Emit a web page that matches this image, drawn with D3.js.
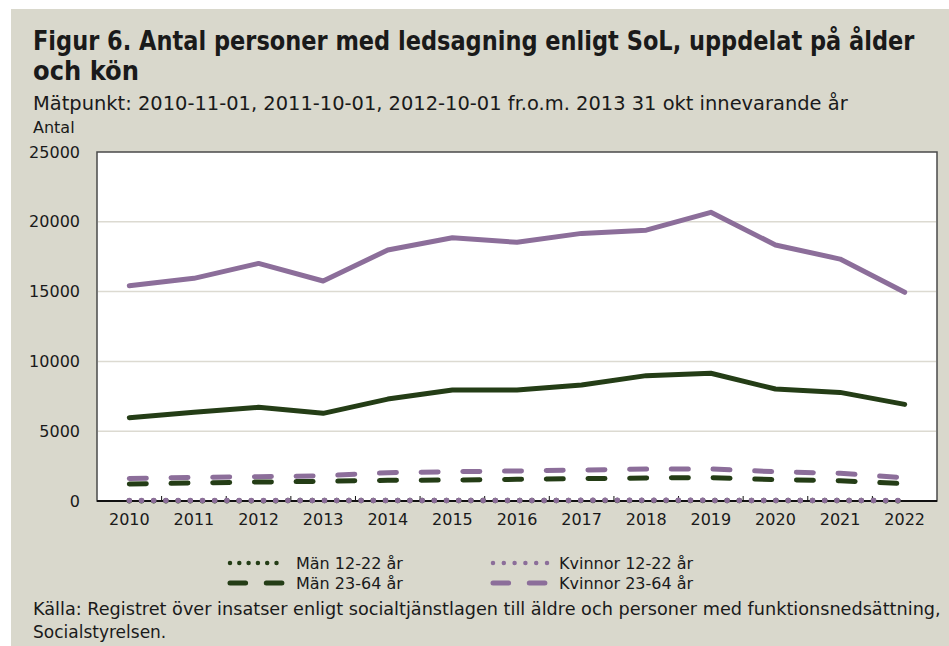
<!DOCTYPE html>
<html>
<head>
<meta charset="utf-8">
<script src="https://cdn.jsdelivr.net/npm/d3@7"></script>
<style>
  body { margin: 0; background: #fff; }
  text { font-family: "DejaVu Sans", sans-serif; fill: #1a1a1a; }
</style>
</head>
<body>
<div id="main"></div>
<script>
'use strict';

var years = ['2010','2011','2012','2013','2014','2015','2016','2017','2018','2019','2020','2021','2022'];
var yTicks = [0, 5000, 10000, 15000, 20000, 25000];

// solid lines (no legend entry in the figure)
var womenSolid = [15420, 15950, 17020, 15760, 17980, 18860, 18530, 19170, 19400, 20680, 18340, 17330, 14950];
var menSolid   = [5970, 6350, 6710, 6280, 7300, 7950, 7950, 8310, 8980, 9150, 8020, 7780, 6920];
// dashed
var women2364 = [1620, 1690, 1740, 1810, 2030, 2100, 2150, 2220, 2290, 2290, 2100, 1980, 1670];
var men2364   = [1220, 1290, 1360, 1410, 1480, 1500, 1550, 1600, 1650, 1670, 1525, 1450, 1240];
// dotted
var men1222   = [20, 25, 25, 30, 30, 30, 35, 35, 35, 35, 30, 30, 25];
var women1222 = [30, 30, 35, 35, 40, 40, 40, 45, 45, 45, 40, 35, 35];

var green = '#243d16';
var purple = '#8c6e9a';

var W = 949, H = 646;
var M = { left: 97, right: 937, top: 152, bottom: 501 };

var svg = d3.select('#main').append('svg').attr('width', W).attr('height', H);

svg.append('rect').attr('x', 11).attr('y', 9).attr('width', W - 11).attr('height', H - 9)
  .attr('fill', '#d9d8cc');

// squeeze a text horizontally so it spans w pixels
function fitText(t, w) {
  var x0 = +t.attr('x'), y0 = +t.attr('y');
  var len = t.node().getComputedTextLength();
  var k = w / len;
  t.attr('x', 0).attr('y', 0)
    .attr('transform', 'translate(' + x0 + ',' + y0 + ') scale(' + k + ',1)');
}
fitText(svg.append('text').attr('x', 33).attr('y', 50)
  .style('font-size', '26px').style('font-weight', 'bold')
  .text('Figur 6. Antal personer med ledsagning enligt SoL, uppdelat på ålder'), 882);
fitText(svg.append('text').attr('x', 33).attr('y', 80)
  .style('font-size', '26px').style('font-weight', 'bold')
  .text('och kön'), 106);
fitText(svg.append('text').attr('x', 33).attr('y', 110)
  .style('font-size', '19px')
  .text('Mätpunkt: 2010-11-01, 2011-10-01, 2012-10-01 fr.o.m. 2013 31 okt innevarande år'), 815);
svg.append('text').attr('x', 33).attr('y', 133).style('font-size', '16px').text('Antal');

var x = d3.scaleBand().domain(years).range([M.left, M.right]);
var y = d3.scaleLinear().domain([0, 25000]).range([M.bottom, M.top]);

// plot area
svg.append('rect').attr('x', M.left).attr('y', M.top)
  .attr('width', M.right - M.left).attr('height', M.bottom - M.top)
  .attr('fill', '#fff').attr('stroke', '#4a4a4a').attr('stroke-width', 1.5);

svg.append('g').selectAll('line')
  .data(yTicks.filter(function(d){ return d > 0 && d < 25000; }))
  .enter().append('line')
  .attr('x1', M.left + 1).attr('x2', M.right - 1)
  .attr('y1', function(d){ return y(d); }).attr('y2', function(d){ return y(d); })
  .attr('stroke', '#dcdad1').attr('stroke-width', 1.5);

// y axis labels
var yAxis = svg.append('g').attr('transform', 'translate(' + M.left + ',0)')
  .call(d3.axisLeft(y).tickValues(yTicks).tickSize(0).tickPadding(17).tickFormat(d3.format('d')));
yAxis.select('.domain').remove();
yAxis.selectAll('text').style('font-size', '16px').style('font-family', '"DejaVu Sans", sans-serif')
  .attr('fill', '#1a1a1a');

// x axis: labels + small inner ticks at band boundaries
var xAxis = svg.append('g').attr('transform', 'translate(0,' + M.bottom + ')')
  .call(d3.axisBottom(x).tickSize(0).tickPadding(13));
xAxis.select('.domain').remove();
xAxis.selectAll('text').style('font-size', '16px').style('font-family', '"DejaVu Sans", sans-serif')
  .attr('fill', '#1a1a1a');

svg.append('g').selectAll('line')
  .data(years.slice(1))
  .enter().append('line')
  .attr('x1', function(d){ return x(d); }).attr('x2', function(d){ return x(d); })
  .attr('y1', M.bottom).attr('y2', M.bottom - 5)
  .attr('stroke', '#111').attr('stroke-width', 1);

svg.append('line').attr('x1', M.left).attr('x2', M.right)
  .attr('y1', M.bottom).attr('y2', M.bottom)
  .attr('stroke', '#111').attr('stroke-width', 2);

// series
var line = d3.line()
  .x(function(d, i){ return x(years[i]) + x.bandwidth() / 2; })
  .y(function(d){ return y(d); });

var series = [
  { values: womenSolid, color: purple, dash: null },
  { values: menSolid,   color: green,  dash: null },
  { values: women2364,  color: purple, dash: '17,24.7' },
  { values: men2364,    color: green,  dash: '17,24.7' },
  { values: men1222,    color: green,  dash: '0,12.2' },
  { values: women1222,  color: purple, dash: '0,12.2' }
];

svg.append('g').selectAll('path')
  .data(series)
  .enter().append('path')
  .attr('d', function(d){ return line(d.values); })
  .attr('fill', 'none')
  .attr('stroke', function(d){ return d.color; })
  .attr('stroke-width', function(d){ return d.dash === '0,12.2' ? 5.5 : 5; })
  .attr('stroke-linecap', 'round')
  .attr('stroke-linejoin', 'round')
  .attr('stroke-dasharray', function(d){ return d.dash; });

// legend
var legend = [
  { label: 'Män 12-22 år',     color: green,  dash: '0,9.3',     w: 4.5, x: 230, y: 563 },
  { label: 'Män 23-64 år',     color: green,  dash: '15.6,20.7', w: 5,   x: 230, y: 583 },
  { label: 'Kvinnor 12-22 år', color: purple, dash: '0,10.8',    w: 4.5, x: 493, y: 563 },
  { label: 'Kvinnor 23-64 år', color: purple, dash: '15.6,20.7', w: 5,   x: 493, y: 583 }
];
var lg = svg.append('g').selectAll('g').data(legend).enter().append('g');
lg.append('line')
  .attr('x1', function(d){ return d.x; }).attr('x2', function(d){ return d.x + 55; })
  .attr('y1', function(d){ return d.y; }).attr('y2', function(d){ return d.y; })
  .attr('stroke', function(d){ return d.color; })
  .attr('stroke-width', function(d){ return d.w; })
  .attr('stroke-linecap', 'round')
  .attr('stroke-dasharray', function(d){ return d.dash; });
lg.append('text')
  .attr('x', function(d){ return d.x + 66; })
  .attr('y', function(d){ return d.y + 6; })
  .style('font-size', '16px')
  .text(function(d){ return d.label; });

// source
fitText(svg.append('text').attr('x', 33).attr('y', 615).style('font-size', '17px')
  .text('Källa: Registret över insatser enligt socialtjänstlagen till äldre och personer med funktionsnedsättning,'), 908);
svg.append('text').attr('x', 33).attr('y', 638).style('font-size', '17px').text('Socialstyrelsen.');
</script>
</body>
</html>
